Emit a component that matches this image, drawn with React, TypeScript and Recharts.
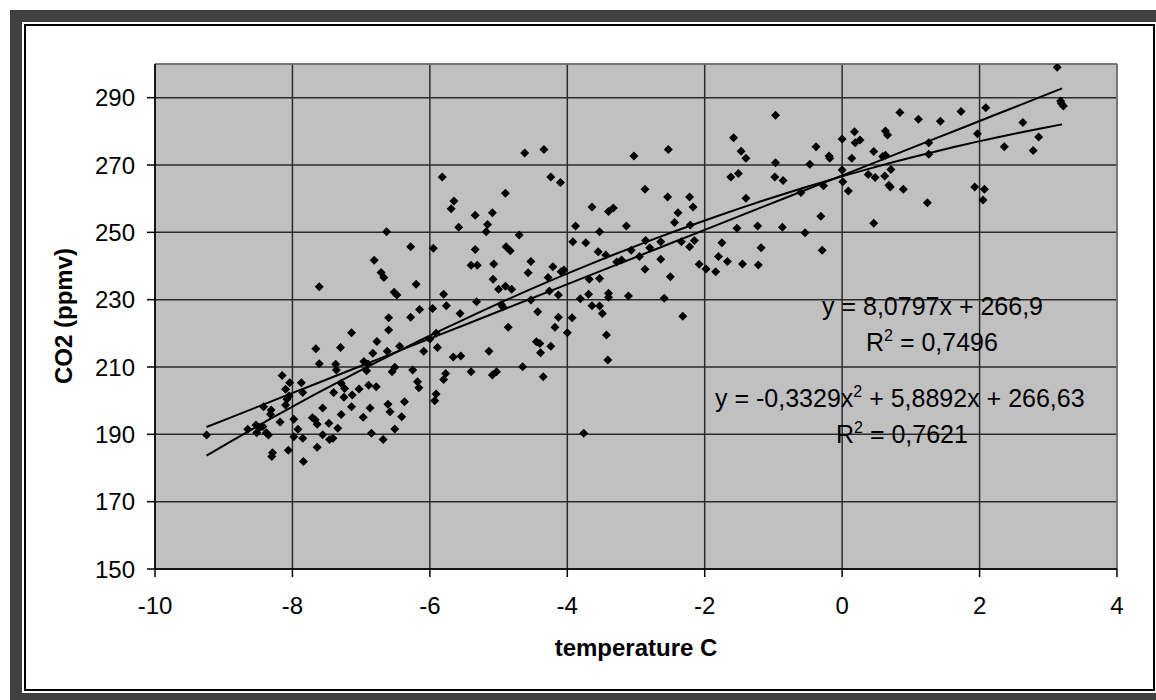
import { ScatterChart, Scatter, XAxis, YAxis, CartesianGrid, ReferenceLine, Customized } from 'recharts';

// temperature anomaly (C) and CO2 (ppmv)
const tempC = [
  -6.63, -6.81, -6.71, -6.67, -7.61, -6.52, -6.48, -6.6,
  -5.82, -5.65, -5.69, -5.58, -5.34, -5.09, -5.16, -5.18, -4.9, -4.62, -4.34, -4.24,
  -4.1, -3.03, -4.7, -6.28, -5.95, -5.34, -4.89, -4.83, -5.4, -5.31, -5.07, -4.53,
  -4.57, -4.21, -4.09, -4.05, -4.28, -5.08, -6.2, -5.0, -4.9, -4.81, -5.8, -5.76,
  -6.15, -5.96, -5.32, -4.96, -4.94, -5.56, -4.53, -4.43, -4.13, -4.26, -4.13, -3.93,
  -6.28, -3.88, -3.92, -3.73, -3.53, -3.64, -3.4, -3.33, -3.14, -3.55, -3.44, -3.28,
  -3.21, -3.07, -3.68, -3.53, -3.81, -3.69, -3.4, -3.4, -3.11, -3.64, -3.53, -3.49,
  -2.53, -0.97, -1.58, -1.47, -1.4, -1.62, -1.51, -0.97, -0.98, -0.86, -0.38, -0.19,
  -0.18, -0.47, 0.0, 0.18, 0.19, 0.26, 0.14, 0.46, 0.0, 0.01, 0.09, 0.38,
  0.48, 0.46, -2.87, -2.54, -2.22, -2.17, -2.39, -2.44, -2.21, -1.4, -0.6, -0.27,
  -0.31, -0.54, -0.29, -1.53, -1.23, -0.87, -1.18, -1.22, -1.45, -1.75, -1.8, -1.67,
  -1.84, -2.08, -1.98, -2.86, -2.8, -2.64, -2.95, -2.87, -2.64, -2.34, -2.22, -2.15,
  -2.5, -2.59, -2.32,
  3.13, 3.18, 3.19, 3.22, 2.09, 1.73, 1.43, 1.11, 0.84, 0.63, 0.66, 2.63,
  2.86, 2.36, 2.78, 1.97, 1.26, 1.26, 0.59, 0.63, 0.71, 0.62, 0.68, 0.7,
  0.89, 1.24, 1.93, 2.07, 2.05,
  -9.25, -8.15, -8.04, -8.1, -7.87, -7.85, -8.05, -8.08, -8.1, -8.42, -8.31, -8.32,
  -8.18, -7.98, -8.65, -8.53, -8.47, -8.43, -8.52, -8.38, -8.35, -7.92, -7.98, -7.85,
  -8.06, -8.29, -8.3, -7.84, -7.66, -7.61, -7.3, -7.14, -7.37, -7.36, -7.4, -7.29,
  -7.24, -7.25, -7.13, -7.03, -7.14, -7.56, -7.71, -7.67, -7.64, -7.47, -7.34, -7.29,
  -7.56, -7.46, -7.41, -7.64, -6.97, -6.87, -6.85, -6.68, -6.77, -6.83, -6.96, -6.9,
  -6.92, -6.89, -6.78, -6.62, -6.6, -6.51, -6.55, -6.61, -6.58, -6.51,
  -6.44, -6.09, -6.0, -5.91, -5.89, -6.25, -6.18, -6.16, -6.37, -6.41, -5.66, -5.55,
  -5.77, -5.8, -5.91, -5.93, -5.4, -5.14, -5.09, -5.03, -4.86, -4.65, -4.35, -4.45,
  -4.4, -4.39, -4.24, -4.18, -4.0, -3.43, -3.41, -3.76,
];

const co2ppmv = [
  250.2, 241.7, 238.1, 236.6, 233.8, 232.2, 231.4, 224.6,
  266.4, 259.3, 257.0, 251.5, 255.1, 255.8, 252.3, 250.2, 261.6, 273.6, 274.6, 266.4,
  264.8, 272.7, 249.2, 245.7, 245.3, 244.9, 245.7, 244.5, 240.2, 240.2, 240.6, 241.3,
  238.0, 239.8, 238.3, 238.8, 236.6, 236.1, 234.6, 233.1, 234.0, 233.1, 231.6, 228.2,
  227.1, 227.4, 229.4, 228.6, 227.9, 225.9, 229.9, 226.4, 231.4, 232.6, 224.8, 224.6,
  224.8, 251.9, 247.2, 246.9, 250.2, 257.5, 256.2, 257.2, 251.9, 244.2, 243.3, 241.2,
  241.8, 244.7, 236.1, 236.3, 230.3, 231.6, 231.9, 230.7, 231.1, 228.2, 228.1, 225.9,
  274.6, 284.8, 278.1, 274.1, 272.0, 266.4, 267.5, 270.7, 266.4, 265.4, 275.4, 272.7,
  272.0, 270.2, 277.7, 279.9, 276.6, 277.4, 272.0, 274.0, 268.5, 265.0, 262.3, 267.2,
  266.3, 252.7, 262.8, 260.5, 260.5, 257.5, 255.8, 252.9, 252.2, 260.1, 261.8, 263.8,
  254.8, 249.9, 244.7, 251.2, 251.9, 251.5, 245.4, 240.3, 240.6, 246.9, 242.8, 241.3,
  238.3, 240.5, 239.1, 247.6, 245.4, 247.2, 242.8, 239.0, 242.0, 247.2, 245.7, 247.6,
  236.8, 230.4, 225.1,
  299.0, 289.0, 288.3, 287.5, 287.0, 285.9, 283.0, 283.6, 285.6, 280.1, 278.9, 282.6,
  278.3, 275.4, 274.3, 279.3, 276.6, 273.2, 272.5, 272.9, 268.7, 266.7, 264.0, 263.5,
  262.8, 258.8, 263.5, 262.8, 259.6,
  189.8, 207.5, 205.3, 203.4, 205.3, 202.4, 201.4, 200.4, 198.7, 198.2, 197.2, 196.0,
  193.7, 194.5, 191.5, 192.8, 192.1, 192.3, 190.5, 190.5, 189.8, 191.5, 189.3, 188.8,
  185.3, 184.5, 183.4, 181.9, 215.4, 211.0, 215.8, 220.2, 210.8, 209.1, 202.4, 205.2,
  203.6, 201.0, 201.7, 203.5, 198.2, 197.8, 194.9, 194.3, 193.0, 193.3, 191.8, 195.9,
  189.9, 188.5, 188.8, 186.2, 195.1, 197.8, 190.3, 188.5, 217.6, 214.1, 211.6, 210.9,
  208.9, 204.6, 204.1, 214.7, 221.0, 209.9, 208.6, 198.9, 196.7, 191.6,
  216.2, 214.7, 218.3, 220.0, 215.8, 209.1, 205.6, 203.8, 199.7, 195.2, 213.0, 213.3,
  208.1, 206.3, 202.0, 200.0, 208.6, 214.7, 207.6, 208.6, 221.8, 210.1, 207.1, 217.5,
  217.0, 214.2, 216.2, 221.8, 220.2, 219.5, 212.1, 190.3,
];

const xTicks = [-10, -8, -6, -4, -2, 0, 2, 4];
const yTicks = [150, 170, 190, 210, 230, 250, 270, 290];

// trendline coefficients as printed on the chart
const linCoef = [266.9, 8.0797];
const quadCoef = [266.63, 5.8892, -0.3329];
const trendFrom = -9.25;
const trendTo = 3.2;

const points = tempC.map((t, i) => ({ x: t, y: co2ppmv[i] }));

const steps = 40;
const trendX = Array.from({ length: steps + 1 }, (_, i) => trendFrom + ((trendTo - trendFrom) * i) / steps);
const linTrend = trendX.map((x) => ({ x, y: linCoef[0] + linCoef[1] * x }));
const quadTrend = trendX.map((x) => ({ x, y: quadCoef[0] + quadCoef[1] * x + quadCoef[2] * x * x }));

const FONT = '"Liberation Sans", Arial, sans-serif';

const Diamond = (props: any) => {
  const { cx, cy } = props;
  const r = 4.5;
  return <path d={`M${cx},${cy - r}L${cx + r},${cy}L${cx},${cy + r}L${cx - r},${cy}Z`} fill="#000" />;
};

const NoDot = () => <g />;

const Annotations = () => (
  <g fontFamily={FONT} fill="#000">
    <text x={822} y={315} fontSize={25}>y = 8,0797x + 266,9</text>
    <text x={866} y={351} fontSize={25}>
      R<tspan dy={-10} fontSize={16}>2</tspan><tspan dy={10}> = 0,7496</tspan>
    </text>
    <text x={715} y={407} fontSize={25}>
      y = -0,3329x<tspan dy={-10} fontSize={16}>2</tspan><tspan dy={10}> + 5,8892x + 266,63</tspan>
    </text>
    <text x={836} y={443} fontSize={25}>
      R<tspan dy={-10} fontSize={16}>2</tspan><tspan dy={10}> = 0,7621</tspan>
    </text>
    <text x={636} y={656} fontSize={24} fontWeight="bold" textAnchor="middle">temperature C</text>
    <text x={72} y={316} fontSize={24} fontWeight="bold" textAnchor="middle" transform="rotate(-90 72 316)">
      CO2 (ppmv)
    </text>
  </g>
);

const App = () => {
  return (
    <div style={{ position: 'absolute', left: 0, top: 0, width: 1156, height: 700, overflow: 'hidden', background: '#fff' }}>
      <div style={{ position: 'absolute', left: 10, top: 10, width: 1160, height: 700, background: '#404040' }} />
      <div style={{ position: 'absolute', left: 22, top: 22, width: 1140, height: 671, background: '#fff' }} />
      <div style={{ position: 'absolute', left: 24, top: 24, width: 1131, height: 667, boxSizing: 'border-box', border: '2px solid #000', background: '#fff' }} />
      <div style={{ position: 'absolute', left: 0, top: 0 }}>
        <ScatterChart width={1156} height={700} margin={{ top: 64, right: 39, bottom: 71, left: 75 }}>
          <CartesianGrid fill="#c0c0c0" fillOpacity={1} stroke="#2b2b2b" strokeWidth={1.5} />
          <XAxis
            type="number"
            dataKey="x"
            domain={[-10, 4]}
            ticks={xTicks}
            interval={0}
            height={60}
            tickSize={8}
            tickMargin={20}
            axisLine={{ stroke: '#000', strokeWidth: 1.5 }}
            tickLine={{ stroke: '#000', strokeWidth: 1.5 }}
            tick={{ fill: '#000', fontSize: 24, fontFamily: FONT }}
            allowDataOverflow
          />
          <YAxis
            type="number"
            dataKey="y"
            domain={[150, 300]}
            ticks={yTicks}
            interval={0}
            width={80}
            tickSize={8}
            tickMargin={12}
            axisLine={{ stroke: '#000', strokeWidth: 1.5 }}
            tickLine={{ stroke: '#000', strokeWidth: 1.5 }}
            tick={{ fill: '#000', fontSize: 24, fontFamily: FONT }}
            allowDataOverflow
          />
          <ReferenceLine y={300} stroke="#808080" strokeWidth={1.5} />
          <ReferenceLine x={4} stroke="#808080" strokeWidth={1.5} />
          <Scatter data={points} shape={Diamond} isAnimationActive={false} />
          <Scatter data={linTrend} line={{ stroke: '#000', strokeWidth: 2 }} shape={NoDot} isAnimationActive={false} />
          <Scatter data={quadTrend} line={{ stroke: '#000', strokeWidth: 2 }} shape={NoDot} isAnimationActive={false} />
          <Customized component={Annotations} />
        </ScatterChart>
      </div>
    </div>
  );
};

export default App;
